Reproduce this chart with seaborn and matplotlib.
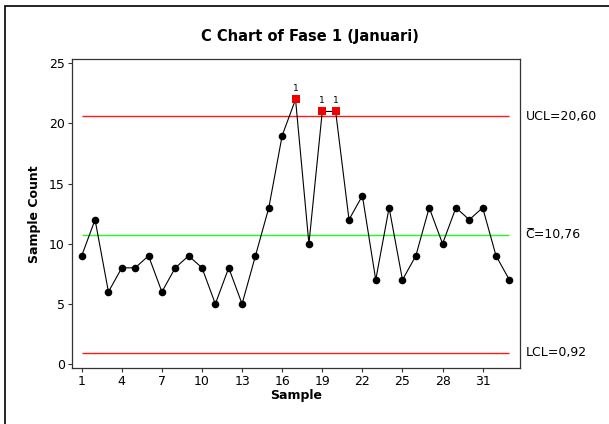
import matplotlib
matplotlib.use("Agg")
import matplotlib.pyplot as plt
import seaborn as sns
import pandas as pd
from matplotlib.patches import Rectangle

# datos
samples = list(range(1, 34))
counts = [9, 12, 6, 8, 8, 9, 6, 8, 9, 8, 5, 8, 5, 9, 13, 19, 22, 10, 21, 21,
          12, 14, 7, 13, 7, 9, 13, 10, 13, 12, 13, 9, 7]
center = 10.76
ucl = 20.60
lcl = 0.92
x_ticks = [1, 4, 7, 10, 13, 16, 19, 22, 25, 28, 31]
y_ticks = [0, 5, 10, 15, 20, 25]

df = pd.DataFrame({"Sample": samples, "Count": counts})
df["out"] = df["Count"] > ucl

sns.set_style("white")
plt.rcParams["font.family"] = ["DejaVu Sans"]
plt.rcParams["text.color"] = "black"
plt.rcParams["axes.labelcolor"] = "black"
plt.rcParams["xtick.color"] = "black"
plt.rcParams["ytick.color"] = "black"

fig = plt.figure(figsize=(6.09, 4.24), dpi=100)
ax = fig.add_axes([0.1177, 0.132, 0.7363, 0.728])

# limites de control
ax.hlines(ucl, 1, 33, color="#ff1a1a", lw=1.0, zorder=1)
ax.hlines(lcl, 1, 33, color="#ff1a1a", lw=1.0, zorder=1)
ax.hlines(center, 1, 33, color="#1aff1a", lw=1.0, zorder=1)

sns.lineplot(data=df, x="Sample", y="Count", color="black", lw=0.8, ax=ax, zorder=2)
sns.scatterplot(data=df[~df["out"]], x="Sample", y="Count", color="black", s=30,
                marker="o", edgecolor="black", linewidth=0, ax=ax, zorder=3)
sns.scatterplot(data=df[df["out"]], x="Sample", y="Count", color="#f00000", s=36,
                marker="s", edgecolor="#f00000", linewidth=0, ax=ax, zorder=3)

for _, r in df[df["out"]].iterrows():
    ax.text(r["Sample"], r["Count"] + 0.55, "1", ha="center", va="bottom", fontsize=6.5)

ax.set_xlim(0.25, 33.8)
ax.set_ylim(-0.33, 25.33)
ax.set_xticks(x_ticks)
ax.set_yticks(y_ticks)
ax.tick_params(axis="both", direction="out", length=3, width=0.8, labelsize=9, pad=2,
               color="#333333", bottom=True, left=True)
for s in ax.spines.values():
    s.set_color("#333333")
    s.set_linewidth(0.9)

ax.set_xlabel("Sample", fontsize=9, fontweight="bold", labelpad=1)
ax.set_ylabel("Sample Count", fontsize=9, fontweight="bold", labelpad=6)

# etiquetas de limites a la derecha
ax.text(1.012, ucl, "UCL=20,60", transform=ax.get_yaxis_transform(), va="center", fontsize=9)
ax.text(1.012, center, "C\u0305=10,76", transform=ax.get_yaxis_transform(), va="center", fontsize=9)
ax.text(1.012, lcl, "LCL=0,92", transform=ax.get_yaxis_transform(), va="center", fontsize=9)

fig.text(310 / 609, 1 - 36 / 424, "C Chart of Fase 1 (Januari)", ha="center", va="center",
         fontsize=10.5, fontweight="bold")

# marco exterior
fig.patches.append(Rectangle((5 / 609, -0.1), 1.2, 1.1 - 6 / 424, transform=fig.transFigure,
                             fill=False, edgecolor="black", lw=1.2))

fig.savefig("out.png", dpi=100)
